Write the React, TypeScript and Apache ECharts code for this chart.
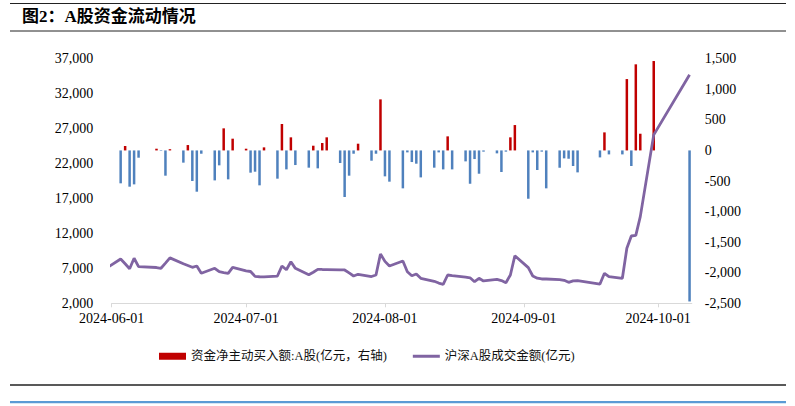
import React, { useEffect, useRef } from 'react';
import * as echarts from 'echarts';

const TITLE = '图2：A股资金流动情况';
const BAR_NAME = '资金净主动买入额:A股(亿元，右轴)';
const LINE_NAME = '沪深A股成交金额(亿元)';

const tradeDates = [
  '2024-05-31',
  '2024-06-03', '2024-06-04', '2024-06-05', '2024-06-06', '2024-06-07',
  '2024-06-11', '2024-06-12', '2024-06-13', '2024-06-14',
  '2024-06-17', '2024-06-18', '2024-06-19', '2024-06-20', '2024-06-21',
  '2024-06-24', '2024-06-25', '2024-06-26', '2024-06-27', '2024-06-28',
  '2024-07-01', '2024-07-02', '2024-07-03', '2024-07-04', '2024-07-05',
  '2024-07-08', '2024-07-09', '2024-07-10', '2024-07-11', '2024-07-12',
  '2024-07-15', '2024-07-16', '2024-07-17', '2024-07-18', '2024-07-19',
  '2024-07-22', '2024-07-23', '2024-07-24', '2024-07-25', '2024-07-26',
  '2024-07-29', '2024-07-30', '2024-07-31',
  '2024-08-01', '2024-08-02',
  '2024-08-05', '2024-08-06', '2024-08-07', '2024-08-08', '2024-08-09',
  '2024-08-12', '2024-08-13', '2024-08-14', '2024-08-15', '2024-08-16',
  '2024-08-19', '2024-08-20', '2024-08-21', '2024-08-22', '2024-08-23',
  '2024-08-26', '2024-08-27', '2024-08-28', '2024-08-29', '2024-08-30',
  '2024-09-02', '2024-09-03', '2024-09-04', '2024-09-05', '2024-09-06',
  '2024-09-09', '2024-09-10', '2024-09-11', '2024-09-12', '2024-09-13',
  '2024-09-18', '2024-09-19', '2024-09-20',
  '2024-09-23', '2024-09-24', '2024-09-25', '2024-09-26', '2024-09-27',
  '2024-09-30',
  '2024-10-08',
];

// 沪深A股成交金额(亿元) - left axis
const turnover = [
  7100,
  8340, 7650, 6950, 8450, 7240,
  7120, 7010, 7750, 8500,
  7650, 7400, 7150, 7340, 6300,
  7010, 6520, 6400, 6290, 7150,
  6650, 6550, 5850, 5800, 5780,
  5900, 7340, 6800, 7950, 7000,
  6080, 6450, 6860, 6840, 6830,
  6790, 6770, 6350, 5910, 6150,
  5830, 6050, 9060,
  8000, 7340,
  8050, 6520, 5950, 6190, 5580,
  5150, 4900, 4720, 6050, 5950,
  5750, 5650, 5090, 5580, 5200,
  5430, 5250, 4950, 6050, 8800,
  7100, 5910, 5600, 5480, 5480,
  5400, 5290, 5000, 5200, 5250,
  4760, 6290, 5810,
  5580, 9870, 11630, 11730, 14400,
  26100,
  34700,
];

// 资金净主动买入额:A股(亿元) - right axis
const netBuy: (number | null)[] = [
  null,
  -538, 72, -593, -555, -119,
  28, -8, -413, 20,
  -200, 88, -500, -675, -54,
  -490, -244, 361, -473, 192,
  28, -364, -348, -571, 50,
  -462, 432, -310, 214, -239,
  -282, 77, -293, 121, 214,
  -206, -762, -413, -54, 110,
  -168, -54, 835,
  -424, -511,
  -620, -32, -190, -217, -441,
  -282, -32, -310, 230, -310,
  -179, -545, -141, -381, -20,
  -48, -353, -20, 214, 415,
  -790, -32, -320, -20, -620,
  -283, -130, -136, -255, -359,
  -114, 295, -65,
  -65, 1167, -255, 1408, 273,
  1462,
  -2470,
];

const xTickLabels = ['2024-06-01', '2024-07-01', '2024-08-01', '2024-09-01', '2024-10-01'];
const xMin = '2024-06-01';
const xMaxDay = '2024-10-08';

const RED = '#C00000';
const BLUE = '#4F81BD';
const PURPLE = '#8064A2';
const SERIF = "'Liberation Serif', 'Times New Roman', 'Noto Sans CJK SC', serif";

function ts(s: string): number {
  const [y, m, d] = s.split('-').map(Number);
  return new Date(y, m - 1, d).getTime();
}
const pad = (n: number) => (n < 10 ? '0' + n : '' + n);
function fmtDate(v: number): string {
  const d = new Date(v);
  return `${d.getFullYear()}-${pad(d.getMonth() + 1)}-${pad(d.getDate())}`;
}
const fmtNum = (v: number) => v.toLocaleString('en-US');

export default function App() {
  const ref = useRef<HTMLDivElement>(null);
  useEffect(() => {
    if (!ref.current) return;
    const chart = echarts.init(ref.current, undefined, { renderer: 'svg' });
    const lineData = tradeDates.map((d, i) => [ts(d), turnover[i]]);
    const barData = tradeDates
      .map((d, i) => [ts(d), netBuy[i]])
      .filter((p) => p[1] !== null);
    const tickVals = xTickLabels.map(ts);
    chart.setOption({
      animation: false,
      backgroundColor: '#fff',
      grid: { left: 111.7, right: 103.2, top: 58.7, bottom: 102.7, containLabel: false },
      legend: {
        left: 154,
        top: 345,
        itemWidth: 27,
        itemHeight: 7,
        itemGap: 26,
        symbolKeepAspect: true,
        textStyle: { fontFamily: SERIF, fontSize: 12.5, color: '#111' },
        data: [
          { name: BAR_NAME, icon: 'rect', itemStyle: { color: RED } },
          {
            name: LINE_NAME,
            icon: 'path://M0,0L27,0L27,3L0,3Z',
            itemStyle: { color: PURPLE, borderWidth: 0 },
          },
        ],
      },
      xAxis: {
        type: 'value',
        min: ts(xMin),
        max: ts(xMaxDay) + 12 * 3600 * 1000,
        scale: true,
        axisLine: { show: true, onZero: false, lineStyle: { color: '#d9d9d9', width: 1 } },
        axisTick: { show: true, length: 4, customValues: tickVals, lineStyle: { color: '#d9d9d9' } },
        axisLabel: {
          customValues: tickVals,
          formatter: (v: number) => fmtDate(v),
          fontFamily: SERIF,
          fontSize: 14,
          color: '#000',
          margin: 8,
        },
        splitLine: { show: false },
      },
      yAxis: [
        {
          type: 'value',
          min: 2000,
          max: 37000,
          interval: 5000,
          axisLine: { show: false },
          axisTick: { show: false },
          splitLine: { show: false },
          axisLabel: { formatter: fmtNum, fontFamily: SERIF, fontSize: 14, color: '#000', margin: 18.4 },
        },
        {
          type: 'value',
          min: -2500,
          max: 1500,
          interval: 500,
          axisLine: { show: false },
          axisTick: { show: false },
          splitLine: { show: false },
          axisLabel: { formatter: fmtNum, fontFamily: SERIF, fontSize: 14, color: '#000', margin: 13 },
        },
      ],
      series: [
        {
          name: BAR_NAME,
          type: 'bar',
          yAxisIndex: 1,
          barWidth: 2.5,
          data: barData,
          itemStyle: {
            color: (p: any) => (p.value[1] < 0 ? BLUE : RED),
          },
        },
        {
          name: LINE_NAME,
          type: 'line',
          yAxisIndex: 0,
          symbol: 'none',
          data: lineData,
          lineStyle: { color: PURPLE, width: 2.8 },
          itemStyle: { color: PURPLE },
          z: 5,
        },
      ],
      graphic: [
        { type: 'line', shape: { x1: 10, y1: 3.5, x2: 786, y2: 3.5 }, style: { stroke: '#222', lineWidth: 1 } },
        {
          type: 'text',
          x: 22,
          y: 16.5,
          style: {
            text: TITLE,
            font: `bold 17px ${SERIF}`,
            fill: '#000',
            verticalAlign: 'middle',
          },
        },
        { type: 'line', shape: { x1: 10, y1: 31, x2: 786, y2: 31 }, style: { stroke: '#222', lineWidth: 1 } },
        { type: 'line', shape: { x1: 10, y1: 385, x2: 786, y2: 385 }, style: { stroke: '#222', lineWidth: 1.5 } },
        { type: 'line', shape: { x1: 10, y1: 402.2, x2: 786, y2: 402.2 }, style: { stroke: '#5B9BD5', lineWidth: 2.2 } },
      ],
    });
    return () => chart.dispose();
  }, []);
  return (
    <div
      ref={ref}
      style={{ position: 'fixed', left: 0, top: 0, width: 795, height: 406 }}
    />
  );
}
